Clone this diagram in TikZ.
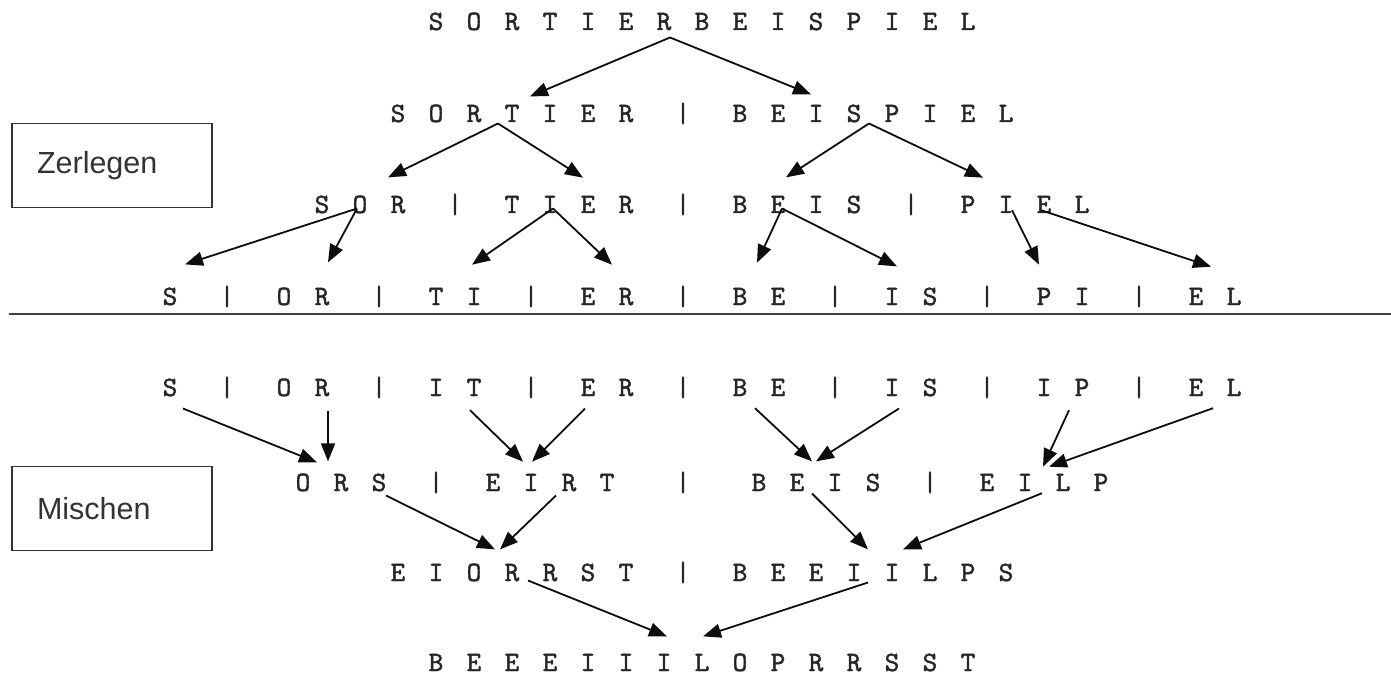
\documentclass[tikz,border=0pt]{standalone}
\usepackage{fontspec}
\setsansfont{Liberation Sans}
\newfontfamily\lettersfont{lmmono10-regular.otf}[FakeBold=1.5]
\usetikzlibrary{arrows.meta}

\begin{document}
\begin{tikzpicture}[
        x=1pt, y=-1pt,
        letters/.style={anchor=base, inner sep=0pt, text=black!85, font={\lettersfont\fontsize{28}{28}\selectfont\spaceskip=23.3pt}},
        stage/.style={draw=black!80, line width=1.6pt, minimum height=84pt, text width=150pt, inner xsep=25pt, align=left, text=black!80, font={\sffamily\fontsize{30.5}{32}\selectfont}},
        rel/.style={-{Triangle[length=18pt, width=14pt]}, line width=1.8pt, draw=black!95},
        cut/.style={line width=2pt, draw=black!75}
    ]
    \useasboundingbox (0,0) rectangle (1391,676);

    \node[stage] (zerlegen) at (112,165.5) {Zerlegen};
    \node[stage] (mischen) at (112,508.5) {Mischen};

    \node[letters] (wort) at (702,30) {S O R T I E R B E I S P I E L};

    \node[letters] (sortier) at (512,122) {S O R T I E R};
    \node[letters] (beispiel) at (873,122) {B E I S P I E L};
    \node[letters] (bar2-1) at (683,122) {|};

    \node[letters] (sor) at (360,213) {S O R};
    \node[letters] (tier) at (569,213) {T I E R};
    \node[letters] (beis) at (797,213) {B E I S};
    \node[letters] (piel) at (1025,213) {P I E L};
    \foreach \x [count=\i] in {455,683,911}
        \node[letters] (bar3-\i) at (\x,213) {|};

    \node[letters] (s) at (170,305) {S};
    \node[letters] (or) at (303,305) {O R};
    \node[letters] (ti) at (455,305) {T I};
    \node[letters] (er) at (607,305) {E R};
    \node[letters] (be) at (759,305) {B E};
    \node[letters] (is) at (911,305) {I S};
    \node[letters] (pi) at (1063,305) {P I};
    \node[letters] (el) at (1215,305) {E L};
    \foreach \x [count=\i] in {227,379,531,683,835,987,1139}
        \node[letters] (bar4-\i) at (\x,305) {|};

    \draw[cut] (9,314) -- (1391,314);

    \node[letters] (ms) at (170,396) {S};
    \node[letters] (mor) at (303,396) {O R};
    \node[letters] (mit) at (455,396) {I T};
    \node[letters] (mer) at (607,396) {E R};
    \node[letters] (mbe) at (759,396) {B E};
    \node[letters] (mis) at (911,396) {I S};
    \node[letters] (mip) at (1063,396) {I P};
    \node[letters] (mel) at (1215,396) {E L};
    \foreach \x [count=\i] in {227,379,531,683,835,987,1139}
        \node[letters] (bar5-\i) at (\x,396) {|};

    \node[letters] (ors) at (341,491) {O R S};
    \node[letters] (eirt) at (550,491) {E I R T};
    \node[letters] (mbeis) at (816,491) {B E I S};
    \node[letters] (eilp) at (1044,491) {E I L P};
    \foreach \x [count=\i] in {436,683,930}
        \node[letters] (bar6-\i) at (\x,491) {|};

    \node[letters] (eiorrst) at (512,581) {E I O R R S T};
    \node[letters] (beeiilps) at (873,581) {B E E I I L P S};
    \node[letters] (bar7-1) at (683,581) {|};

    \node[letters] (sortiert) at (702,671) {B E E E I I I L O P R R S S T};

    \draw[rel] ([shift={(-32,7)}]wort.south) -- ([shift={(18,-8)}]sortier.north);
    \draw[rel] ([shift={(-32,7)}]wort.south) -- ([shift={(-62,-10)}]beispiel.north);

    \draw[rel] ([shift={(-14,1)}]sortier.south) -- ([shift={(28,-18)}]sor.north);
    \draw[rel] ([shift={(-14,1)}]sortier.south) -- ([shift={(14,-18)}]tier.north);
    \draw[rel] ([shift={(-4,1)}]beispiel.south) -- ([shift={(-11,-18)}]beis.north);
    \draw[rel] ([shift={(-4,1)}]beispiel.south) -- ([shift={(-42,-18)}]piel.north);

    \draw[rel] ([shift={(-3,-5)}]sor.south) -- ([shift={(15,-23)}]s.north);
    \draw[rel] ([shift={(-3,-5)}]sor.south) -- ([shift={(25,-25)}]or.north);
    \draw[rel] ([shift={(-16,-5)}]tier.south) -- ([shift={(17,-23)}]ti.north);
    \draw[rel] ([shift={(-16,-5)}]tier.south) -- ([shift={(5,-23)}]er.north);
    \draw[rel] ([shift={(-15,-5)}]beis.south) -- ([shift={(-2,-25)}]be.north);
    \draw[rel] ([shift={(-15,-5)}]beis.south) -- ([shift={(-14,-21)}]is.north);
    \draw[rel] ([shift={(-13,-3)}]piel.south) -- ([shift={(-24,-23)}]pi.north);
    \draw[rel] ([shift={(16,-3)}]piel.south) -- ([shift={(-4,-21)}]el.north);

    \draw[rel] ([shift={(13,12)}]ms.south) -- ([shift={(-24,-11)}]ors.north);
    \draw[rel] ([shift={(25,14)}]mor.south) -- ([shift={(-13,-12)}]ors.north);
    \draw[rel] ([shift={(15,14)}]mit.south) -- ([shift={(-27,-12)}]eirt.north);
    \draw[rel] ([shift={(-22,12)}]mer.south) -- ([shift={(-18,-12)}]eirt.north);
    \draw[rel] ([shift={(-4,12)}]mbe.south) -- ([shift={(-4,-12)}]mbeis.north);
    \draw[rel] ([shift={(-12,12)}]mis.south) -- ([shift={(0,-12)}]mbeis.north);
    \draw[rel] ([shift={(6,14)}]mip.south) -- ([shift={(-1,-7)}]eilp.north);
    \draw[rel] ([shift={(-2,12)}]mel.south) -- ([shift={(5,-7)}]eilp.north);

    \draw[rel] ([shift={(45,4)}]ors.south) -- ([shift={(-17,-14)}]eiorrst.north);
    \draw[rel] ([shift={(6,4)}]eirt.south) -- ([shift={(-12,-14)}]eiorrst.north);
    \draw[rel] ([shift={(-4,2)}]mbeis.south) -- ([shift={(-5,-14)}]beeiilps.north);
    \draw[rel] ([shift={(-2,2)}]eilp.south) -- ([shift={(30,-14)}]beeiilps.north);

    \draw[rel] ([shift={(16,-1)}]eiorrst.south) -- ([shift={(-35,-17)}]sortiert.north);
    \draw[rel] ([shift={(-5,1)}]beeiilps.south) -- ([shift={(1,-17)}]sortiert.north);
\end{tikzpicture}
\end{document}
